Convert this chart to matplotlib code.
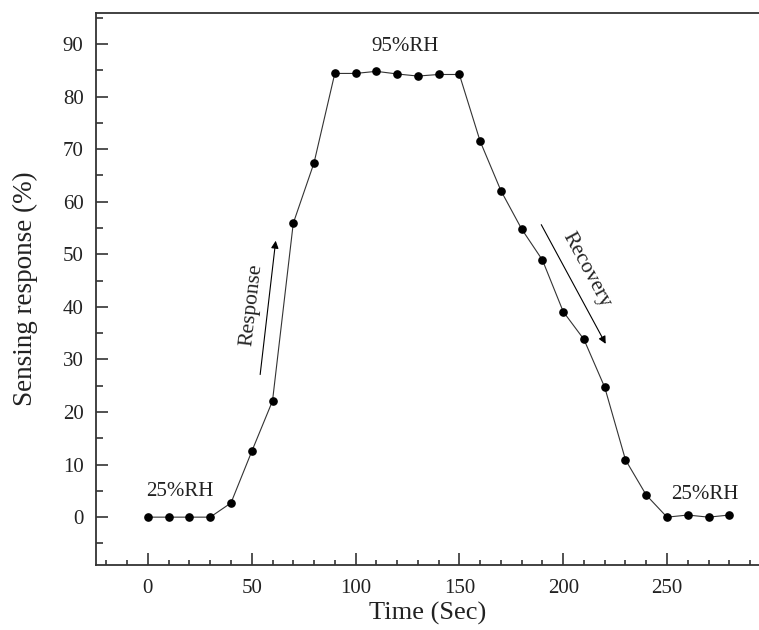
import matplotlib
matplotlib.use("Agg")
import matplotlib.pyplot as plt
from matplotlib.ticker import MultipleLocator

# time (s) and sensing response (%)
time = [0, 10, 20, 30, 40, 50, 60, 70, 80, 90, 100, 110, 120, 130, 140,
        150, 160, 170, 180, 190, 200, 210, 220, 230, 240, 250, 260, 270, 280]
response = [0, 0, 0, 0, 2.7, 12.5, 22.1, 55.9, 67.4, 84.4, 84.4, 84.8, 84.3, 83.9, 84.2,
            84.2, 71.5, 62.1, 54.8, 48.9, 39.1, 33.8, 24.7, 10.9, 4.2, 0, 0.4, 0, 0.4]

plt.rcParams['font.family'] = ['Liberation Serif', 'DejaVu Serif']
txt = '#222222'

fig = plt.figure(figsize=(7.59, 6.30), dpi=100)
ax = fig.add_axes([0.1265, 0.1032, 0.8735, 0.8762])

ax.plot(time, response, color='#333333', lw=0.8, marker='o', markersize=5.2,
        markerfacecolor='black', markeredgecolor='black')

ax.set_xlim(-25, 294.3)
ax.set_ylim(-9.1, 95.9)
ax.xaxis.set_major_locator(MultipleLocator(50))
ax.xaxis.set_minor_locator(MultipleLocator(10))
ax.yaxis.set_major_locator(MultipleLocator(10))
ax.yaxis.set_minor_locator(MultipleLocator(5))
ax.tick_params(which='both', direction='in', labelsize=15, width=1.2,
               top=False, right=False, colors='#333333', labelcolor=txt)
ax.tick_params(which='major', length=8.5)
ax.tick_params(axis='y', which='minor', length=5)
ax.tick_params(axis='x', which='minor', length=3.5)
ax.tick_params(axis='x', pad=10)
ax.tick_params(axis='y', pad=9)

for side in ['left', 'bottom', 'top']:
    ax.spines[side].set_linewidth(1.3)
    ax.spines[side].set_color('#333333')
ax.spines['right'].set_visible(False)

ax.set_xlabel('Time (Sec)', fontsize=19, labelpad=3, color=txt)
ax.set_ylabel('Sensing response (%)', fontsize=19.5, labelpad=18, color=txt)

# annotations
ax.text(-1, 4.8, '25%RH', fontsize=15, ha='left', va='center', color=txt)
ax.text(252, 4.4, '25%RH', fontsize=15, ha='left', va='center', color=txt)
ax.text(123.8, 89.6, '95%RH', fontsize=15, ha='center', va='center', color=txt)

ax.annotate('', xy=(61.7, 53.1), xytext=(53.9, 26.6),
            arrowprops=dict(arrowstyle='-|>', color='black', lw=0.8,
                            mutation_scale=11))
ax.annotate('', xy=(221.1, 32.5), xytext=(188.8, 56.1),
            arrowprops=dict(arrowstyle='-|>', color='black', lw=0.8,
                            mutation_scale=11))
ax.text(50.1, 40.3, 'Response', fontsize=15.5, rotation=83.4, color=txt,
        ha='center', va='center', rotation_mode='anchor')
ax.text(211, 47, 'Recovery', fontsize=15.5, rotation=-61.6, color=txt,
        ha='center', va='center', rotation_mode='anchor')

fig.savefig('out.png', dpi=100)
